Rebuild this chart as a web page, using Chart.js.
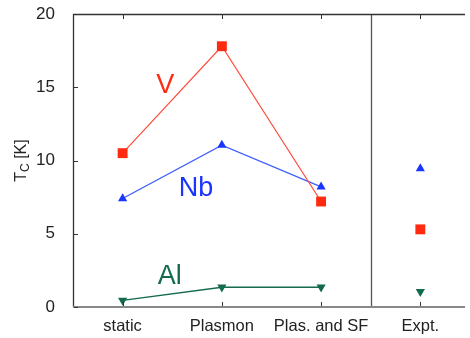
<!DOCTYPE html>
<html>
<head>
<meta charset="utf-8">
<script src="https://cdn.jsdelivr.net/npm/chart.js@4/dist/chart.umd.min.js"></script>
<style>
html,body{margin:0;padding:0;background:#fff;overflow:hidden;}
canvas{display:block;}
</style>
</head>
<body>
<canvas id="c" width="470" height="338"></canvas>
<script>
// ---- data ----
const categories = ['static', 'Plasmon', 'Plas. and SF', 'Expt.'];
const theoryX = [0, 1, 2];
const vTheory = [10.5, 17.8, 7.2];
const nbTheory = [7.4, 11.05, 8.2];
const alTheory = [0.45, 1.35, 1.35];
const exptX = 3;
const vExpt = 5.3;
const nbExpt = 9.45;
const alExpt = 1.05;
const yTicks = [0, 5, 10, 15, 20];

const RED = '#ff2a10', BLUE = '#1a35ff', GREEN = '#146b4c';
const LRED = '#ff4a3a', LBLUE = '#3d5cff';

function pts(xs, ys) { return ys.map((y, i) => ({x: xs[i], y})); }

const frame = {
  id: 'frame',
  afterDatasetsDraw(chart) {
    const ctx = chart.ctx, a = chart.chartArea, xs = chart.scales.x, ys = chart.scales.y;
    ctx.save();
    // separator between theory and experiment
    const sx = Math.round(xs.getPixelForValue(2.5)) + 0.5;
    ctx.strokeStyle = '#555'; ctx.lineWidth = 1.3;
    ctx.beginPath(); ctx.moveTo(sx, a.top); ctx.lineTo(sx, a.bottom); ctx.stroke();
    // frame
    ctx.strokeStyle = '#333'; ctx.lineWidth = 1.3;
    ctx.beginPath();
    ctx.moveTo(a.right + 2, a.top + 0.5); ctx.lineTo(a.left + 0.5, a.top + 0.5); ctx.lineTo(a.left + 0.5, a.bottom);
    ctx.stroke();
    ctx.strokeStyle = '#888'; ctx.lineWidth = 2;
    ctx.beginPath(); ctx.moveTo(a.left, a.bottom); ctx.lineTo(a.right + 2, a.bottom); ctx.stroke();
    // inward ticks
    ctx.strokeStyle = '#333'; ctx.lineWidth = 1;
    ctx.beginPath();
    [0, 1, 2, 3].forEach(v => {
      const px = Math.round(xs.getPixelForValue(v)) + 0.5;
      ctx.moveTo(px, a.bottom - 1); ctx.lineTo(px, a.bottom - 5);
      ctx.moveTo(px, a.top + 1); ctx.lineTo(px, a.top + 5);
    });
    yTicks.forEach(v => {
      const py = Math.round(ys.getPixelForValue(v)) + 0.5;
      ctx.moveTo(a.left + 1, py); ctx.lineTo(a.left + 5, py);
    });
    ctx.stroke();
    // series labels
    ctx.font = '27px "Liberation Sans", Arial, sans-serif';
    ctx.textAlign = 'center'; ctx.textBaseline = 'alphabetic';
    [['V', RED, 0.43, 14.6], ['Nb', BLUE, 0.74, 7.6], ['Al', GREEN, 0.475, 1.55]].forEach(([t, c, x, y]) => {
      ctx.fillStyle = c;
      ctx.fillText(t, xs.getPixelForValue(x), ys.getPixelForValue(y));
    });
    // y axis title with subscript
    ctx.translate(26, (a.top + a.bottom) / 2);
    ctx.rotate(-Math.PI / 2);
    ctx.fillStyle = '#222'; ctx.textAlign = 'left';
    const big = '16px "Liberation Sans", Arial, sans-serif', small = '12px "Liberation Sans", Arial, sans-serif';
    ctx.font = big; const wT = ctx.measureText('T').width, wK = ctx.measureText(' [K]').width;
    ctx.font = small; const wC = ctx.measureText('C').width;
    let x0 = -(wT + wC + wK) / 2;
    ctx.font = big; ctx.fillText('T', x0, 0); x0 += wT;
    ctx.font = small; ctx.fillText('C', x0, 3); x0 += wC;
    ctx.font = big; ctx.fillText(' [K]', x0, 0);
    ctx.restore();
  }
};

new Chart(document.getElementById('c'), {
  type: 'scatter',
  data: {
    datasets: [
      {label: 'V', data: pts(theoryX, vTheory), showLine: true, borderColor: LRED, borderWidth: 1.2,
       pointStyle: 'rect', pointRadius: 7, pointBackgroundColor: RED, pointBorderWidth: 0},
      {label: 'Nb', data: pts(theoryX, nbTheory), showLine: true, borderColor: LBLUE, borderWidth: 1.2,
       pointStyle: 'triangle', pointRadius: 5.3, pointBackgroundColor: BLUE, pointBorderWidth: 0},
      {label: 'Al', data: pts(theoryX, alTheory), showLine: true, borderColor: GREEN, borderWidth: 1.4,
       pointStyle: 'triangle', rotation: 180, pointRadius: 5.3, pointBackgroundColor: GREEN, pointBorderWidth: 0},
      {label: 'V expt', data: [{x: exptX, y: vExpt}], showLine: false,
       pointStyle: 'rect', pointRadius: 7, pointBackgroundColor: RED, pointBorderWidth: 0},
      {label: 'Nb expt', data: [{x: exptX, y: nbExpt}], showLine: false,
       pointStyle: 'triangle', pointRadius: 5.3, pointBackgroundColor: BLUE, pointBorderWidth: 0},
      {label: 'Al expt', data: [{x: exptX, y: alExpt}], showLine: false,
       pointStyle: 'triangle', rotation: 180, pointRadius: 5.3, pointBackgroundColor: GREEN, pointBorderWidth: 0}
    ]
  },
  options: {
    responsive: false, animation: false, devicePixelRatio: 1,
    layout: {padding: {top: 14, right: 0, left: 0, bottom: 0}},
    plugins: {legend: {display: false}, tooltip: {enabled: false}},
    scales: {
      x: {
        type: 'linear', min: -0.5, max: 3.43,
        afterBuildTicks: s => { s.ticks = [0, 1, 2, 3].map(v => ({value: v})); },
        afterFit: s => { s.height = 31; s.paddingLeft = 0; s.paddingRight = 0; },
        ticks: {callback: v => categories[v], font: {family: '"Liberation Sans", Arial, sans-serif', size: 16.5},
                color: '#222', padding: 2, maxRotation: 0, autoSkip: false},
        grid: {display: false}, border: {display: false}
      },
      y: {
        min: 0, max: 20,
        afterBuildTicks: s => { s.ticks = yTicks.map(v => ({value: v})); },
        afterFit: s => { s.width = 73; s.paddingTop = 0; s.paddingBottom = 0; },
        ticks: {font: {family: '"Liberation Sans", Arial, sans-serif', size: 17}, color: '#222', padding: 10},
        grid: {display: false}, border: {display: false}
      }
    }
  },
  plugins: [frame]
});
</script>
</body>
</html>
